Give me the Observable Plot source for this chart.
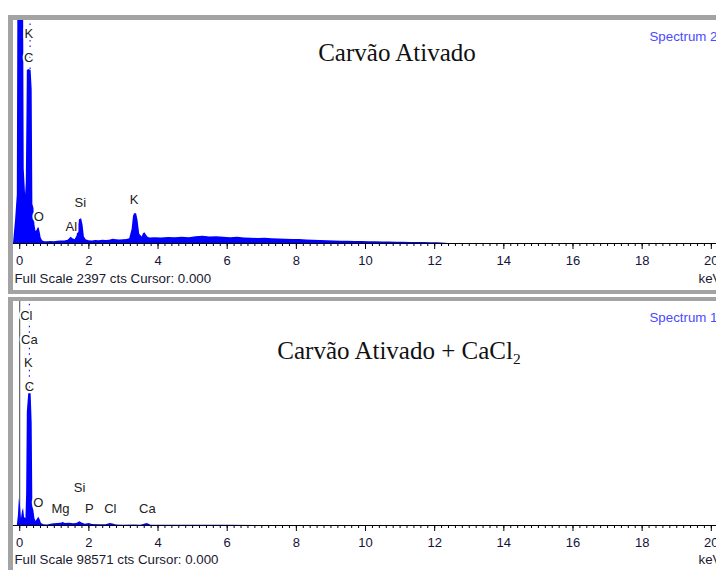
<!DOCTYPE html>
<html><head><meta charset="utf-8">
<script src="https://cdn.jsdelivr.net/npm/d3@7"></script>
<script src="https://cdn.jsdelivr.net/npm/@observablehq/plot@0.6"></script>
<style>
body{margin:0;background:#fff;}
#wrap{position:relative;width:716px;height:570px;overflow:hidden;background:#fff;}
.bar{position:absolute;background:#a3a3a3;}
.title{position:absolute;font-family:"Liberation Serif","Times New Roman",serif;font-size:25px;line-height:25px;color:#111;white-space:nowrap;transform:translateX(-50%);}
.title sub{font-size:0.62em;vertical-align:-0.3em;line-height:0;}
</style></head><body>
<div id="wrap">
  <div id="p1" style="position:absolute;left:0;top:20px"></div>
  <div id="p2" style="position:absolute;left:0;top:301px"></div>
  <div class="bar" style="left:8px;top:15px;width:708px;height:5px"></div>
  <div class="bar" style="left:8px;top:15px;width:5px;height:279px"></div>
  <div class="bar" style="left:8px;top:290px;width:708px;height:4px"></div>
  <div class="bar" style="left:8px;top:297px;width:708px;height:4px"></div>
  <div class="bar" style="left:8px;top:297px;width:5px;height:273px"></div>
  <div class="title" style="left:397px;top:40px">Carvão Ativado</div>
  <div class="title" style="left:399px;top:338px">Carvão Ativado + CaCl<sub>2</sub></div>
</div>
<script>
// ---- Data: Spectrum 2 (Carvão Ativado), energy in keV, counts ----
const energy1 = [-0.18,-0.12,-0.07,-0.05,-0.02,0.08,0.11,0.13,0.17,0.19,0.21,0.22,0.27,0.33,0.36,0.38,0.41,0.44,0.47,0.50,0.53,0.56,0.59,0.62,0.66,0.72,0.80,0.90,1.00,1.10,1.20,1.30,1.40,1.45,1.49,1.54,1.60,1.66,1.70,1.73,1.79,1.83,1.87,1.92,2.00,2.10,2.20,2.30,2.40,2.50,2.60,2.70,2.80,2.90,3.00,3.10,3.18,3.25,3.29,3.32,3.38,3.42,3.47,3.54,3.58,3.62,3.67,3.72,3.78,3.9,4.1,4.3,4.5,4.7,4.9,5.1,5.3,5.5,5.7,5.9,6.1,6.3,6.5,6.7,6.9,7.1,7.3,7.5,7.7,7.9,8.1,8.3,8.5,8.7,8.9,9.1,9.3,9.5,9.7,9.9,10.1,10.3,10.5,10.7,10.9,11.1,11.3,11.5,11.7,11.9,12.1,12.3,12.4,20.15];
const counts1 = [0,250,520,3000,6000,6000,2800,800,520,650,1400,1860,1870,1860,1650,420,380,200,130,140,165,170,120,60,30,20,18,22,20,25,28,26,35,55,68,50,40,80,200,255,265,200,70,40,30,28,32,30,34,32,36,45,40,38,40,42,50,150,290,320,320,250,100,70,105,115,85,65,58,62,58,64,61,66,63,72,78,70,73,66,63,67,60,56,54,57,50,48,46,43,44,38,34,31,29,27,25,24,22,21,19,18,17,15,14,13,12,11,10,9,8,4,0,0];

// ---- Data: Spectrum 1 (Carvão Ativado + CaCl2) ----
const energy2 = [-0.18,-0.07,-0.04,-0.01,0.02,0.05,0.08,0.11,0.14,0.18,0.20,0.22,0.26,0.33,0.36,0.38,0.41,0.44,0.47,0.51,0.55,0.59,0.63,0.70,0.80,0.90,1.00,1.10,1.20,1.26,1.32,1.45,1.55,1.65,1.74,1.80,1.90,2.01,2.10,2.30,2.50,2.62,2.70,2.80,3.00,3.30,3.50,3.69,3.80,4.50,6.00,8.00,20.15];
const counts2 = [0,0,4000,11900,9000,3000,6000,7500,3500,3000,14000,50000,58000,58000,45000,8000,6500,3000,1800,2600,3600,2500,900,300,250,600,800,900,1000,1300,900,1000,800,900,1700,1100,500,900,450,300,350,900,700,200,150,200,150,850,150,100,60,0,0];

// ---- Element labels (energy keV, counts where the label sits) ----
const labels1Text = ["K","C","O","Al","Si","K"];
const labels1E    = [0.26,0.26,0.55,1.49,1.75,3.31];
const labels1C    = [2258,2000,290,183,441,473];
const labels2Text = ["Cl","Ca","K","C","O","Mg","Si","P","Cl","Ca"];
const labels2E    = [0.19,0.28,0.25,0.28,0.54,1.18,1.73,2.01,2.62,3.69];
const labels2C    = [92400,81800,71700,61200,10100,7500,16700,7500,7500,7500];

const fullScale1 = 2397, fullScale2 = 98571;
const cPeak1 = {e: 0.30, c: 1870}, cPeak2 = {e: 0.28, c: 58000};
const majorTicks = [0,2,4,6,8,10,12,14,16,18,20];
const tickLabels = ["0","2","4","6","8","10","12","14","16","18","20"];
const minorTicks = d3.range(0, 20.21, 0.2);

const font = "'Liberation Sans', Arial, sans-serif";

function panel(el, energy, counts, labT, labE, labC, fs, peak, specName, mb, footDy) {
  const data = energy.map((e, i) => ({e, c: counts[i]}));
  const labs = labT.map((t, i) => ({t, e: labE[i], c: labC[i]}));
  const p = Plot.plot({
    width: 716, height: 269,
    marginLeft: 13, marginRight: 0, marginTop: 0, marginBottom: mb,
    x: {domain: [-0.18, 20.15]},
    y: {domain: [0, fs], axis: null},
    style: {background: "transparent", fontFamily: font},
    marks: [
      Plot.ruleX([0], {stroke: "#444", strokeWidth: 1}),
      Plot.areaY(data, {x: "e", y: "c", fill: "#0000ff", clip: true}),
      Plot.ruleX([peak], {x: "e", y1: "c", y2: fs, stroke: "#2020ff", strokeWidth: 1.2, strokeDasharray: "1.5,4"}),
      Plot.ruleY([0], {stroke: "#000", strokeWidth: 1}),
      Plot.axisX({ticks: minorTicks, tickSize: 3, tickFormat: () => "", label: null, stroke: "#000"}),
      Plot.axisX({ticks: majorTicks, tickSize: 6, tickPadding: 6, label: null,
        tickFormat: (d) => tickLabels[majorTicks.indexOf(d)], fontSize: 13, fill: "#14143a", stroke: "#000"}),
      Plot.text(labs, {x: "e", y: "c", text: "t", fill: "#222", stroke: "white", strokeWidth: 4,
        fontSize: 13, fontFamily: font}),
      Plot.text([`Full Scale ${fs} cts Cursor: 0.000`], {frameAnchor: "bottom-left", textAnchor: "start",
        dx: 1, dy: footDy, fontSize: 13.3, fill: "#1a1a30", fontFamily: font}),
      Plot.text(["keV"], {frameAnchor: "bottom-right", textAnchor: "start", dx: -18, dy: footDy,
        fontSize: 13.3, fill: "#1a1a30", fontFamily: font}),
      Plot.text([specName], {frameAnchor: "top-right", textAnchor: "start", dx: -67, dy: 11,
        fontSize: 13.3, fill: "#4a4aff", fontFamily: font})
    ]
  });
  document.getElementById(el).appendChild(p);
}

panel("p1", energy1, counts1, labels1Text, labels1E, labels1C, fullScale1, cPeak1, "Spectrum 2", 46, 39);
panel("p2", energy2, counts2, labels2Text, labels2E, labels2C, fullScale2, cPeak2, "Spectrum 1", 45, 38);
</script>
</body></html>
